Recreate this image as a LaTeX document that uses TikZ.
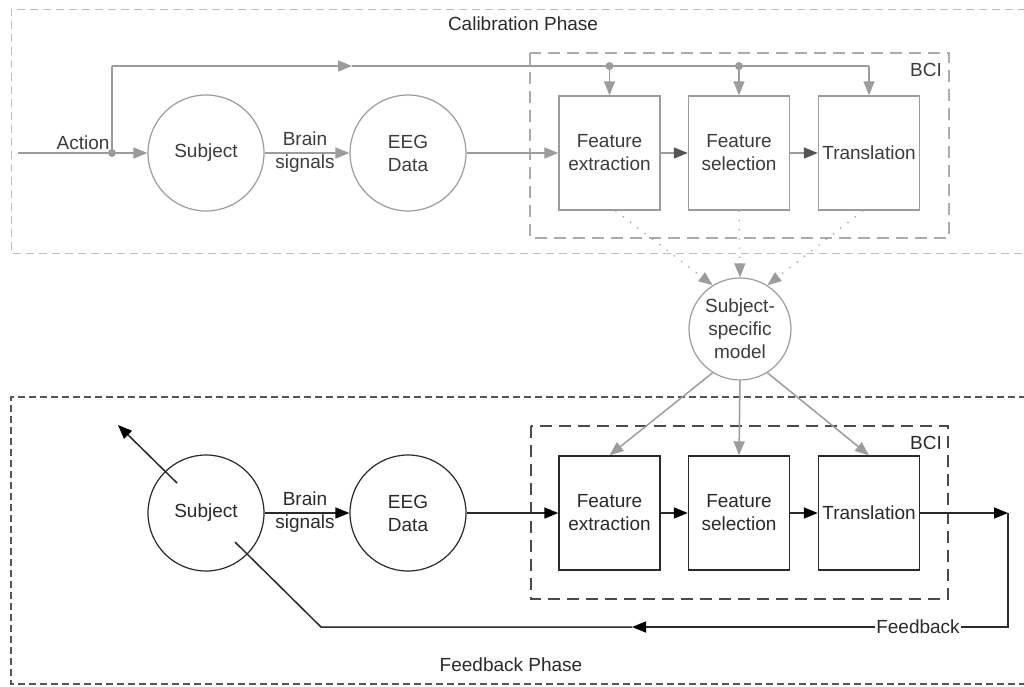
\documentclass[tikz,border=0pt]{standalone}
\usepackage{fontspec}
\setmainfont{Liberation Sans}
\usetikzlibrary{arrows.meta,positioning}
\definecolor{lg}{HTML}{9C9C9C}
\definecolor{lgt}{HTML}{3C3C3C}
\definecolor{dk}{HTML}{2A2A2A}
\definecolor{phasegray}{HTML}{BDBDBD}
\definecolor{phasedark}{HTML}{555555}
\definecolor{bcigray}{HTML}{ABABAB}
\definecolor{bcidark}{HTML}{4A4A4A}
\begin{document}
\begin{tikzpicture}[x=1pt,y=-1pt,
  font=\fontsize{19}{23}\selectfont,
  gtip/.style={-{Triangle[length=14pt,width=11pt,color=lg]}},
  dtip/.style={-{Triangle[length=14pt,width=11pt,color=black]}},
  mtip/.style={-{Triangle[length=14pt,width=11pt,color=phasedark]}},
  circ/.style={circle,minimum size=116pt,inner sep=0pt,align=center,line width=1.2pt},
  procbox/.style={rectangle,minimum width=101pt,minimum height=114pt,inner sep=1pt,align=center,line width=1.4pt},
  topcol/.style={draw=lg,text=lgt},
  botcol/.style={draw=dk,text=dk},
  grayline/.style={draw=lg,line width=1.5pt},
  darkline/.style={draw=dk,line width=1.5pt},
  lbl/.style={inner sep=0pt,align=center},
]
\useasboundingbox (0,0) rectangle (1024,686);
\fill[white] (0,0) rectangle (1024,686);

% ---------- phase frames ----------
\draw[phasegray,line width=1pt,dash pattern=on 8pt off 5pt] (1026,9) -- (11,9) -- (11,253) -- (1026,253);
\node[lbl,text=dk] (calt) at (523,24) {Calibration Phase};
\draw[phasedark,line width=1.2pt,dash pattern=on 7pt off 4pt] (1026,397) -- (11,397) -- (11,684) -- (1026,684);
\node[lbl,text=dk] (feedt) at (511,665) {Feedback Phase};

% ---------- BCI frames ----------
\draw[bcigray,line width=1.8pt,dash pattern=on 12pt off 7pt] (530,53) rectangle (949,238);
\node[lbl,text=lgt] (bci1) at (926,70) {BCI};
\draw[bcidark,line width=1.8pt,dash pattern=on 12pt off 7pt] (531,426) rectangle (948,599);
\node[lbl,text=dk] (bci2) at (926,443) {BCI};

% ---------- calibration phase nodes ----------
\node[circ,topcol,draw] (s1) at (206,153) {Subject};
\node[circ,topcol,draw] (e1) at (408,153) {EEG\\Data};
\node[procbox,topcol,draw] (fe1) at (609.5,153) {Feature\\extraction};
\node[procbox,topcol,draw] (fs1) at (739,153) {Feature\\selection};
\node[procbox,topcol,draw] (tr1) at (869,153) {Translation};

\coordinate (ain) at (18,153);
\coordinate (adot) at (112,153);
\coordinate (aup) at (112,66);
\coordinate (amid) at (352,66);
\coordinate (aright) at (869,66);

\draw[grayline] (ain) -- (adot);
\draw[grayline,gtip] (adot) -- (s1);
\node[lbl,text=lgt,anchor=south] (act) at (83,150) {Action};
\draw[grayline] (adot) -- (aup);
\draw[grayline,gtip] (aup) -- (amid);
\draw[grayline] (amid) -- (aright);
\draw[grayline,gtip] (aright) -- (tr1.north);
\draw[grayline,gtip] (fe1.north |- aup) -- (fe1.north);
\draw[grayline,gtip] (fs1.north |- aup) -- (fs1.north);
\fill[lg] (adot) circle (4pt);
\fill[lg] (fe1.north |- aup) circle (4pt);
\fill[lg] (fs1.north |- aup) circle (4pt);

\draw[grayline,gtip] (s1) -- (e1);
\node[lbl,text=lgt] (bs1) at (305,152) {Brain\\signals};
\draw[grayline,gtip] (e1) -- (fe1);
\draw[grayline,mtip] (fe1) -- (fs1);
\draw[grayline,mtip] (fs1) -- (tr1);

% ---------- subject-specific model ----------
\node[circle,minimum size=102pt,inner sep=0pt,align=center,line width=1.2pt,draw=lg,text=lgt] (m) at (740,329) {Subject-\\specific\\model};
\draw[lg,line width=1.3pt,dash pattern=on 1.2pt off 8pt,gtip] (fe1.south) ++(6pt,0) -- (m.122);
\draw[lg,line width=1.3pt,dash pattern=on 1.2pt off 8pt,gtip] (fs1.south) -- (m.north);
\draw[lg,line width=1.3pt,dash pattern=on 1.2pt off 8pt,gtip] (tr1.south) ++(-6pt,0) -- (m.58);

% ---------- feedback phase nodes ----------
\node[circ,botcol,draw] (s2) at (206,513) {Subject};
\node[circ,botcol,draw] (e2) at (408,513) {EEG\\Data};
\node[procbox,botcol,draw] (fe2) at (609.5,513) {Feature\\extraction};
\node[procbox,botcol,draw] (fs2) at (739,513) {Feature\\selection};
\node[procbox,botcol,draw] (tr2) at (869,513) {Translation};

\draw[grayline,gtip] (m.238) -- (fe2.north);
\draw[grayline,gtip] (m.south) -- (fs2.north);
\draw[grayline,gtip] (m.302) -- (tr2.north);

\draw[darkline,dtip] (s2) -- (e2);
\node[lbl,text=dk] (bs2) at (305,512) {Brain\\signals};
\draw[darkline,dtip] (e2) -- (fe2);
\draw[darkline,dtip] (fe2) -- (fs2);
\draw[darkline,dtip] (fs2) -- (tr2);

\coordinate (fb1) at (1008,513);
\coordinate (fb2) at (1008,627);
\coordinate (fbm) at (632,627);
\coordinate (fb3) at (321,627);
\coordinate (sin) at (235,542);
\coordinate (sout1) at (177,483);
\coordinate (sout2) at (118,425);
\draw[darkline,dtip] (tr2) -- (fb1);
\draw[darkline,dtip] (fb1) -- (fb2) -- (fbm);
\draw[darkline] (fbm) -- (fb3) -- (sin);
\node[lbl,fill=white,inner xsep=1pt,inner ysep=2pt,text=dk] (fbl) at (918,627) {Feedback};
\draw[darkline,dtip] (sout1) -- (sout2);
\end{tikzpicture}
\end{document}
